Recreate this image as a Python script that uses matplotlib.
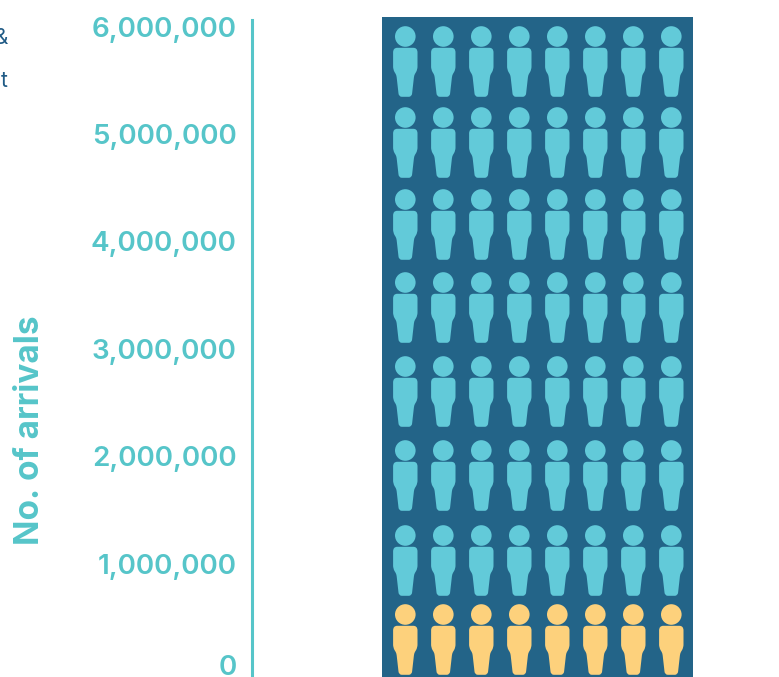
import matplotlib
matplotlib.use("Agg")
import matplotlib.pyplot as plt
from matplotlib.path import Path
from matplotlib.patches import PathPatch
from matplotlib.transforms import Affine2D, ScaledTranslation

# data
tick_values = [0, 1000000, 2000000, 3000000, 4000000, 5000000, 6000000]
axis_title = "No. of arrivals"
people_per_row = [8, 8, 8, 8, 8, 8, 8, 8]
row_groups = ["rest", "rest", "rest", "rest", "rest", "rest", "rest", "highlight"]
side_fragments = ["&", "t"]

# layout, in pixels of the 779x677 picture
row_y = [36.5, 117.5, 199.5, 282.5, 366.5, 450.5, 535.5, 614.5]
first_col_x = 405.3
col_step = 38

TEAL = "#56c5c9"
PANEL = "#236488"
NAVY = "#1f5a85"
group_colors = {"rest": "#62cad9", "highlight": "#fdd17c"}
FONT = ["Inter", "DejaVu Sans"]

W, H = 779, 677
fig = plt.figure(figsize=(W / 100, H / 100), dpi=100)

# y axis
ax = fig.add_axes([252 / W, 0, 1 / W, (H - 20) / H])
px_per_million = 107.4
zero_px = 671
ax.set_ylim((zero_px - H) / px_per_million * 1e6, (zero_px - 20) / px_per_million * 1e6)
ax.set_xticks([])
ax.set_yticks(tick_values)
ax.set_yticklabels([f"{v:,}" for v in tick_values], family=FONT, fontsize=20,
                   fontweight="semibold", color=TEAL)
ax.tick_params(axis="y", length=0, pad=11)
for s in ["top", "right", "bottom"]:
    ax.spines[s].set_visible(False)
ax.spines["left"].set_color(TEAL)
ax.spines["left"].set_linewidth(2.2)
zero_label = ax.get_yticklabels()[0]
zero_label.set_transform(zero_label.get_transform() + ScaledTranslation(0, 4 / 72, fig.dpi_scale_trans))

fig.text(30 / W, 1 - 430 / H, axis_title, rotation=90, ha="center", va="center",
         family=FONT, fontsize=24, fontweight="bold", color=TEAL)

for txt, y in zip(side_fragments, [38, 81]):
    fig.text(8 / W, 1 - y / H, txt, ha="right", va="center", family=FONT,
             fontsize=15, color=NAVY)

# pictogram
pic = fig.add_axes([382 / W, 0, 311 / W, (H - 17) / H])
pic.set_xlim(382, 693)
pic.set_ylim(H, 17)
pic.axis("off")
pic.add_patch(plt.Rectangle((382, 17), 311, H - 17, color=PANEL, lw=0))

# person outline: right half from shoulder to foot, mirrored for the left
M, L, C = Path.MOVETO, Path.LINETO, Path.CURVE3
half = [
    (0, 11.3, M),
    (8, 11.3, L), (12.2, 11.3, C), (12.2, 16, C),
    (12.2, 30, L), (12.2, 33, C), (10.8, 35.5, C),
    (9.6, 37.5, L), (8.8, 39, C), (8.6, 41, C),
    (6.8, 57, L), (6.4, 60.3, C), (3.5, 60.3, C),
    (0, 60.3, L),
]
verts = [(x, y) for x, y, _ in half] + [(-x, y) for x, y, _ in half[-2::-1]]
codes = [c for _, _, c in half] + [half[i][2] for i in range(len(half) - 1, 0, -1)]
body = Path(verts, codes)
person = Path.make_compound_path(Path.circle((0, 0), 10.3), body)

for r, (n, group) in enumerate(zip(people_per_row, row_groups)):
    for c in range(n):
        p = person.transformed(Affine2D().translate(first_col_x + c * col_step, row_y[r]))
        pic.add_patch(PathPatch(p, facecolor=group_colors[group], edgecolor="none"))

fig.savefig("out.png", dpi=100)
